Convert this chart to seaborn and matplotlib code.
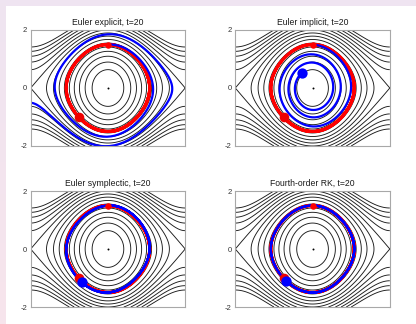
import numpy as np
import pandas as pd
import matplotlib
matplotlib.use("Agg")
import matplotlib.pyplot as plt
import seaborn as sns
from matplotlib.colors import LinearSegmentedColormap

# ---------------- data / parameters ----------------
titles = ["Euler explicit, t=20", "Euler implicit, t=20",
          "Euler symplectic, t=20", "Fourth-order RK, t=20"]
methods = ["explicit", "implicit", "symplectic", "rk4"]
q_start = [0.0]
p_start = [1.5]
equilibrium_q = [0.0]
equilibrium_p = [0.0]
t_end = 20.0
step = 0.1
energy_levels = [-0.8, -0.6, -0.4, -0.2, 0.0, 0.2, 0.4, 0.6, 0.8,
                 1.0, 1.2, 1.4, 1.6, 1.8, 2.0]
y_ticks = [-2, 0, 2]
y_ticklabels = ["-2", "0", "2"]


def force(q):
    return -np.sin(q)


def integrate(method, q, p, h, n):
    qs, ps = [q], [p]
    for _ in range(n):
        if method == "explicit":
            q, p = q + h * p, p + h * force(q)
        elif method == "implicit":
            qn = q
            for _ in range(30):
                F = qn - q - h * p + h * h * np.sin(qn)
                dF = 1 + h * h * np.cos(qn)
                qn -= F / dF
            p = p + h * force(qn)
            q = qn
        elif method == "symplectic":
            p = p + h * force(q)
            q = q + h * p
        else:  # rk4
            k1q, k1p = p, force(q)
            k2q, k2p = p + h / 2 * k1p, force(q + h / 2 * k1q)
            k3q, k3p = p + h / 2 * k2p, force(q + h / 2 * k2q)
            k4q, k4p = p + h * k3p, force(q + h * k3q)
            q = q + h / 6 * (k1q + 2 * k2q + 2 * k3q + k4q)
            p = p + h / 6 * (k1p + 2 * k2p + 2 * k3p + k4p)
        qs.append(q)
        ps.append(p)
    return np.array(qs), np.array(ps)


n_steps = int(round(t_end / step)) - 1
fine_h = 0.001
q_ex, p_ex = integrate("rk4", q_start[0], p_start[0], fine_h, int(round(t_end / fine_h)))
exact_df = pd.DataFrame({"q": q_ex, "p": p_ex})

Qg, Pg = np.meshgrid(np.linspace(-np.pi, np.pi, 500), np.linspace(-2, 2, 400))
Hg = Pg ** 2 / 2 - np.cos(Qg)

# ---------------- style ----------------
sns.set_theme(style="white")
plt.rcParams["font.family"] = ["Liberation Sans", "DejaVu Sans"]
plt.rcParams["contour.negative_linestyle"] = "solid"

W, H = 416, 324
fig = plt.figure(figsize=(W / 100, H / 100), dpi=100, facecolor="white")

# page background bands
band_top = fig.add_axes([0, 1 - 6 / H, 1, 6 / H])
band_top.set_axis_off()
band_top.add_patch(plt.Rectangle((0, 0), 1, 1, color="#efe4f1", transform=band_top.transAxes))
band_left = fig.add_axes([0, 0, 6 / W, 1])
grad = np.linspace(0, 1, 100)[:, None]
cmap_band = LinearSegmentedColormap.from_list("band", ["#f7e4ec", "#efe4f1"])
band_left.imshow(grad, aspect="auto", cmap=cmap_band, extent=[0, 1, 0, 1], origin="lower")
band_left.set_axis_off()

lefts = [30.7, 235.3, 30.7, 235.3]
tops = [30.0, 30.0, 191.0, 191.0]
aw, ah = 154.5, 116.0

for i, (title, method) in enumerate(zip(titles, methods)):
    ax = fig.add_axes([lefts[i] / W, 1 - (tops[i] + ah) / H, aw / W, ah / H])
    ax.contour(Qg, Pg, Hg, levels=energy_levels, colors="#1a1a1a",
               linewidths=0.65, linestyles="solid")
    qn, pn = integrate(method, q_start[0], p_start[0], step, n_steps)
    num_df = pd.DataFrame({"q": qn, "p": pn})
    sns.lineplot(data=exact_df, x="q", y="p", sort=False, estimator=None,
                 color="#ff0000", lw=2.2, ax=ax)
    sns.lineplot(data=num_df, x="q", y="p", sort=False, estimator=None,
                 color="#0000ff", lw=1.6, ax=ax)
    ax.scatter(equilibrium_q, equilibrium_p, s=2, color="black", zorder=5, linewidths=0)
    ax.scatter(q_start, p_start, s=22, color="#ff0000", zorder=6, linewidths=0)
    ax.scatter([q_ex[-1]], [p_ex[-1]], s=48, color="#ee0000", zorder=6, linewidths=0)
    ax.scatter([qn[-1]], [pn[-1]], s=55, color="#0000ff", zorder=7, linewidths=0)
    ax.set_xlim(-np.pi, np.pi)
    ax.set_ylim(-2, 2)
    ax.set_xticks([])
    ax.set_yticks(y_ticks)
    ax.set_yticklabels(y_ticklabels)
    ax.tick_params(axis="y", length=0, labelsize=5.5, pad=2.5, colors="#333333")
    ax.set_xlabel("")
    ax.set_ylabel("")
    for s in ax.spines.values():
        s.set_color("#a8a8a8")
        s.set_linewidth(0.8)
    ax.set_title(title, fontsize=6.2, pad=3.5, color="#1a1a1a")

fig.savefig("out.png", dpi=100, facecolor=fig.get_facecolor())
